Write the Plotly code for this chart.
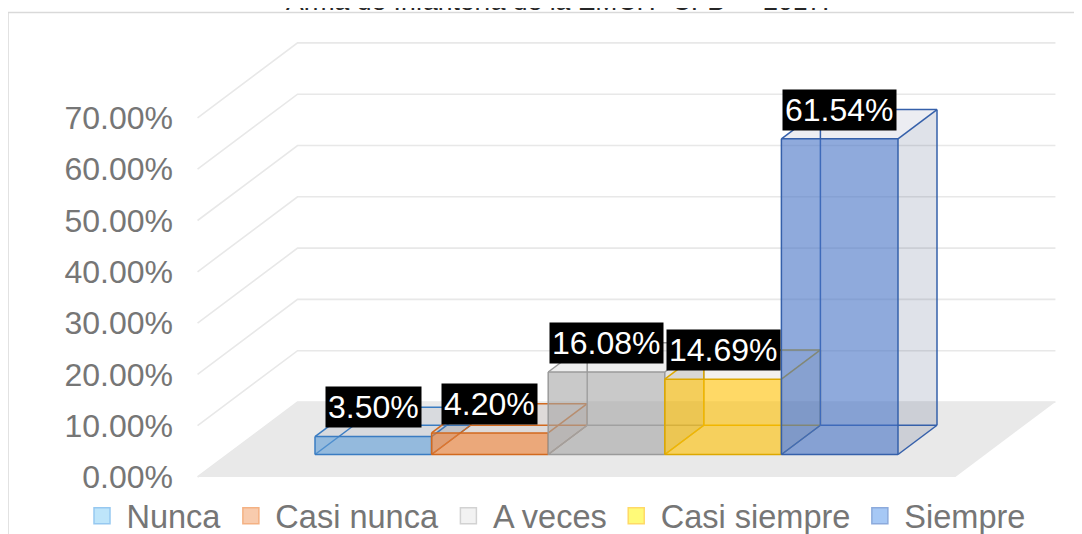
import plotly.graph_objects as go

# ---------------- data ----------------
categories = ["Nunca", "Casi nunca", "A veces", "Casi siempre", "Siempre"]
values = [3.50, 4.20, 16.08, 14.69, 61.54]
value_labels = ["3.50%", "4.20%", "16.08%", "14.69%", "61.54%"]
tick_values = [0, 10, 20, 30, 40, 50, 60, 70]
tick_labels = ["0.00%", "10.00%", "20.00%", "30.00%", "40.00%", "50.00%", "60.00%", "70.00%"]
title_text = "Arma de Infantería de la EMCH “CFB” – 2017."

# ---------------- styles ----------------
base_rgb = [(91, 155, 213), (237, 125, 49), (165, 165, 165), (255, 192, 0), (68, 114, 196)]
edge_colors = ["#3A7CC2", "#D2691E", "#9A9A9A", "#DDA800", "#3560AA"]
shade_rgb = [(40, 70, 110), (110, 70, 50), (70, 70, 70), (120, 100, 50), (40, 60, 110)]
legend_fill = ["#BEE5FA", "#F8CBAD", "#F2F2F2", "#FFFA78", "#A6C8F5"]
legend_line = ["#96C8F0", "#F4B183", "#D2D2D2", "#FFD966", "#8CAADC"]
FONT = "Liberation Sans, Arial, sans-serif"
GRAY = "#767676"

# ---------------- oblique projection (3D look) ----------------
W, H = 1082, 534
PAGE = 8                              # default page margin of the html body
PX_CAT, CAT0 = 116.6, 343.3 - PAGE    # pixels per category, pixel of category 0 (front plane)
PX_PCT, ZERO = 5.13, 477.0 - PAGE     # pixels per percent, pixel of 0 %
AXIS_PX = 195 - PAGE                  # where the value labels end (front-left corner)
DX = 100.0 / PX_CAT                   # depth offset (category units)
DY = 75.0 / PX_PCT                    # depth offset (percent units)
V_FRONT, V_BACK = 0.30, 0.69
FLOOR_L, FLOOR_R = -1.25, len(categories) - 1 + 1.25

def P(u, v, z):
    return (u + v * DX, z + v * DY)

def path(pts, close=False):
    if close:
        pts = pts + [pts[0]]
    return [p[0] for p in pts], [p[1] for p in pts]

def px_to_paper_x(px):
    return (px - PAGE) / W

def px_to_paper_y(py):
    return 1 - (py - PAGE) / H

fig = go.Figure()

# back-wall / side-wall gridlines
gx, gy = [], []
for t in tick_values:
    for p in (P(FLOOR_L, 0, t), P(FLOOR_L, 1, t), P(FLOOR_R, 1, t)):
        gx.append(p[0]); gy.append(p[1])
    gx.append(None); gy.append(None)
fig.add_trace(go.Scatter(x=gx, y=gy, mode="lines", line=dict(color="#E8E8E8", width=1.6),
                         hoverinfo="skip", showlegend=False))

# floor
fx, fy = path([P(FLOOR_L, 0, 0), P(FLOOR_R, 0, 0), P(FLOOR_R, 1, 0), P(FLOOR_L, 1, 0)], close=True)
fig.add_trace(go.Scatter(x=fx, y=fy, mode="lines", fill="toself", fillcolor="#E9E9E9",
                         line=dict(width=0, color="#E9E9E9"), hoverinfo="skip", showlegend=False))

def rgba(c, a):
    return "rgba(%d,%d,%d,%.3f)" % (c[0], c[1], c[2], a)

for i, (cat, val) in enumerate(zip(categories, values)):
    a, b = i - 0.5, i + 0.5
    FBL, FBR, FTR, FTL = P(a, V_FRONT, 0), P(b, V_FRONT, 0), P(b, V_FRONT, val), P(a, V_FRONT, val)
    BBL, BBR, BTR, BTL = P(a, V_BACK, 0), P(b, V_BACK, 0), P(b, V_BACK, val), P(a, V_BACK, val)
    ec = edge_colors[i]
    # right side face
    x, y = path([FBR, BBR, BTR, FTR], close=True)
    fig.add_trace(go.Scatter(x=x, y=y, mode="lines", fill="toself", fillcolor=rgba(shade_rgb[i], 0.15),
                             line=dict(width=0), hoverinfo="skip", showlegend=False))
    # top face
    x, y = path([FTL, FTR, BTR, BTL], close=True)
    fig.add_trace(go.Scatter(x=x, y=y, mode="lines", fill="toself", fillcolor=rgba(shade_rgb[i], 0.09),
                             line=dict(width=0), hoverinfo="skip", showlegend=False))
    # hidden edges (seen through the transparent front)
    hx, hy = [], []
    for seg in ((BBL, BTL), (BBL, BBR), (FBL, BBL)):
        hx += [seg[0][0], seg[1][0], None]; hy += [seg[0][1], seg[1][1], None]
    fig.add_trace(go.Scatter(x=hx, y=hy, mode="lines", line=dict(color=ec, width=1.5),
                             hoverinfo="skip", showlegend=False))
    # front face
    x, y = path([FBL, FBR, FTR, FTL], close=True)
    fig.add_trace(go.Scatter(x=x, y=y, mode="lines", fill="toself", fillcolor=rgba(base_rgb[i], 0.6),
                             line=dict(width=0), name=cat, hovertemplate=cat + ": %{text}<extra></extra>",
                             text=[value_labels[i]] * 5, showlegend=False))
    # visible edges
    vx, vy = [], []
    for seg in ((FBL, FBR), (FBR, FTR), (FTR, FTL), (FTL, FBL), (FTL, BTL), (FTR, BTR),
                (FBR, BBR), (BTL, BTR), (BTR, BBR)):
        vx += [seg[0][0], seg[1][0], None]; vy += [seg[0][1], seg[1][1], None]
    fig.add_trace(go.Scatter(x=vx, y=vy, mode="lines", line=dict(color=ec, width=1.5),
                             hoverinfo="skip", showlegend=False))

# legend entries
for i, cat in enumerate(categories):
    fig.add_trace(go.Scatter(x=[None], y=[None], mode="markers", name=cat,
                             marker=dict(symbol="square", size=17, color=legend_fill[i],
                                         line=dict(color=legend_line[i], width=1.5))))

# data labels
annotations = []
for i, (val, lab) in enumerate(zip(values, value_labels)):
    lx, _ = P(i, V_FRONT, val)
    ly = val + V_BACK * DY
    annotations.append(dict(x=lx, y=ly, xref="x", yref="y", text=lab, showarrow=False,
                            font=dict(family=FONT, size=32, color="white"),
                            bgcolor="black", borderpad=2, xanchor="center", yanchor="middle"))

# title (cut off at the top as in the reference)
annotations.append(dict(x=px_to_paper_x(557), y=px_to_paper_y(18.5), xref="paper", yref="paper",
                        text=title_text, showarrow=False, xanchor="center", yanchor="bottom",
                        font=dict(family=FONT, size=26.5, color="#262626")))

x_range = [(0 - CAT0) / PX_CAT, (W - CAT0) / PX_CAT]
y_range = [(ZERO - H) / PX_PCT, ZERO / PX_PCT]

fig.update_layout(
    width=W, height=H,
    margin=dict(l=0, r=0, t=0, b=0, pad=0, autoexpand=False),
    paper_bgcolor="white", plot_bgcolor="white",
    font=dict(family=FONT, color=GRAY),
    xaxis=dict(range=x_range, visible=False, fixedrange=True, domain=[0, 1]),
    yaxis=dict(range=y_range, tickvals=tick_values, ticktext=tick_labels, showgrid=False,
               zeroline=False, showline=False, ticks="", ticklabelstandoff=22,
               anchor="free", position=AXIS_PX / W, side="left",
               tickfont=dict(family=FONT, size=32, color=GRAY), fixedrange=True),
    showlegend=True,
    legend=dict(orientation="h", x=px_to_paper_x(554), xanchor="center",
                y=px_to_paper_y(516), yanchor="middle", font=dict(family=FONT, size=32.5, color=GRAY),
                itemsizing="trace", itemwidth=39, bgcolor="rgba(0,0,0,0)", traceorder="normal"),
    annotations=annotations,
    shapes=[dict(type="rect", xref="paper", yref="paper",
                 x0=px_to_paper_x(8), x1=1.05, y0=-0.05, y1=px_to_paper_y(12.5),
                 line=dict(color="#D9D9D9", width=1.5), fillcolor="rgba(0,0,0,0)", layer="below")],
)

fig.write_html("out.html")
